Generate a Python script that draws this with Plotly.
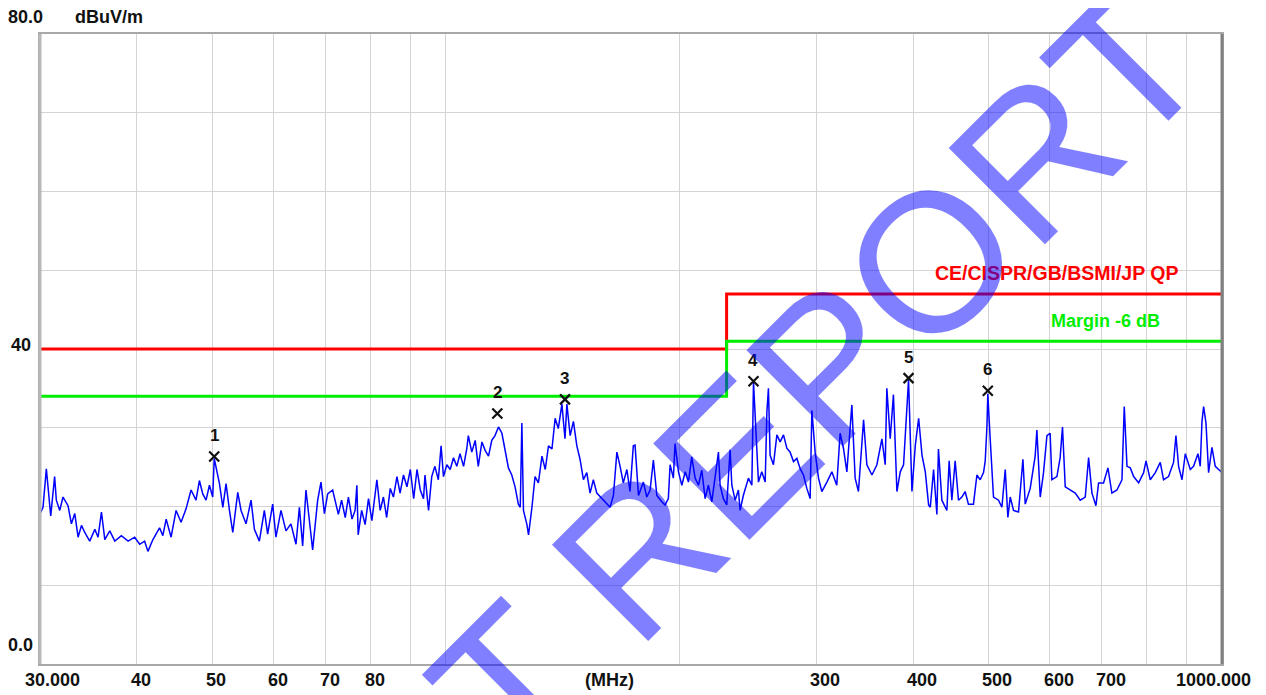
import math
import plotly.graph_objects as go

# ---------------- data ----------------
freq_mhz = [
    30.0, 30.27, 30.57, 30.72, 30.97, 31.33, 31.49, 31.81, 32.12, 32.60, 32.93, 33.26, 33.59, 33.93,
    34.26, 34.77, 35.30, 35.64, 36.00, 36.36, 36.90, 37.45, 38.19, 38.96, 39.73, 40.32, 40.92, 41.32,
    41.94, 42.77, 43.19, 43.62, 44.26, 44.92, 45.59, 46.27, 46.96, 47.66, 48.14, 48.62, 49.10, 49.59,
    50.08, 50.3, 51.09, 51.60, 52.10, 52.63, 53.15, 53.94, 54.47, 55.28, 56.11, 56.67, 57.51, 58.37,
    58.94, 59.83, 60.41, 61.32, 62.23, 63.16, 64.11, 64.76, 65.39, 66.04, 66.71, 67.36, 68.37, 69.05,
    69.75, 70.43, 71.48, 72.55,
    72.7, 73.4, 74.2, 74.9, 75.7, 76.4, 76.8, 77.1, 77.9, 78.7, 79.5, 80.3, 81.1, 81.5, 82.3, 83.1,
    83.9, 84.8, 85.6, 86.5, 87.3, 88.2, 89.1, 90.0, 90.9, 91.8, 92.7, 93.6, 94.0, 95.0, 95.9, 96.8,
    97.8, 98.6, 99.3, 100.3, 101.3, 102.3, 103.3, 104.3, 105.4, 106.4, 106.9, 108.0, 109.1, 110.1,
    111.3, 112.4, 113.5, 114.6, 115.7, 116.9, 118.1, 119.2, 120.4, 121.6, 122.8, 124.0, 124.7, 125.3,
    125.9, 127.2, 127.8, 129.1, 130.3, 131.6, 133.0, 134.3, 135.6, 137.0, 138.3, 139.6, 141.1, 142.4,
    143.2, 144.6, 146.0, 147.5, 148.9, 150.4, 151.9, 153.4, 154.9, 156.5, 158.8, 161.2, 162.8, 164.4,
    166.1, 167.7, 169.3, 171.1, 172.7, 174.4,
    175.3, 177.1, 179.7, 181.5, 183.3, 185.1, 187.0, 189.8, 191.6, 193.5, 194.5, 196.4, 197.4, 199.4,
    201.4, 203.4, 205.4, 207.4, 209.5, 211.6, 213.7, 215.8, 217.9, 220.1, 222.3, 224.5, 225.6, 227.8,
    230.1, 232.4, 233.6, 235.9, 238.2, 239.4, 241.7, 245.4, 247.9, 249.1, 252.8, 255.3, 257.9, 259.2,
    260.4, 261.7, 264.3, 267.0, 269.6, 272.3, 275.0, 277.7, 280.5, 283.3, 286.1, 288.9, 291.8, 294.7,
    296.2, 299.1, 302.1, 305.1, 309.7, 314.3, 318.9, 322.1, 325.3, 328.6, 333.5, 336.8, 340.1, 345.3,
    348.7, 354.0, 359.2, 364.6, 368.2, 370.0, 373.7, 377.3, 381.2, 385.0, 388.8, 394.6, 398.6, 402.6,
    406.6, 410.7, 414.7, 418.8,
    420.9, 425.0, 429.2, 431.2, 435.6, 442.1, 445.1, 448.7, 453.1, 457.6, 462.2, 466.7, 471.3, 478.4,
    483.3, 488.0, 492.9, 495.4, 497.9, 499.2, 502.6, 507.7, 515.3, 520.5, 525.7, 529.8, 533.5, 538.8,
    546.8, 554.0, 557.8, 566.1, 574.5, 577.4, 583.2, 588.9, 594.9, 600.6, 603.7, 612.8, 618.7, 623.0,
    628.1, 637.4, 647.0, 656.6, 666.5, 673.2, 679.9, 688.0, 693.4, 703.7, 712.9, 721.3, 732.2, 743.2,
    748.3, 754.4, 761.8, 769.4, 780.9, 792.5, 798.2, 808.3, 820.5, 832.6, 840.8, 853.4, 866.1, 872.3,
    879.2, 888.1, 896.8, 910.2, 919.1, 931.2, 937.5, 942.3, 946.9, 953.6, 961.0, 970.6, 980.2, 994.9,
    1000.0,
]
level_dbuv = [
    19.1, 19.9, 24.8, 22.5, 18.8, 23.8, 20.8, 19.5, 21.2, 20.1, 17.8, 19.1, 16.1, 17.6,
    16.7, 15.6, 17.1, 16.1, 19.3, 15.8, 16.9, 15.6, 16.3, 15.6, 16.1, 15.2, 15.6, 14.3,
    15.8, 17.3, 16.3, 18.4, 16.1, 19.5, 18.0, 19.7, 22.1, 20.8, 23.3, 21.6, 20.8, 22.7,
    21.2, 26.1, 22.9, 19.9, 22.9, 19.5, 16.7, 21.8, 19.5, 17.8, 20.8, 17.1, 15.6, 19.5,
    16.5, 20.3, 16.1, 19.5, 16.9, 17.8, 15.2, 19.9, 15.0, 22.1, 18.2, 14.5, 20.8, 23.1,
    19.1, 21.6, 22.1, 19.1,
    19.0, 20.8, 18.6, 21.2, 18.4, 19.5, 22.7, 16.4, 19.5, 17.7, 21.0, 18.2, 21.7, 23.4, 19.5, 21.2,
    18.6, 22.3, 21.2, 23.8, 21.7, 24.0, 22.5, 24.7, 21.0, 24.7, 22.1, 21.0, 24.0, 19.5, 23.8, 25.1,
    23.4, 27.7, 23.8, 25.3, 24.7, 26.2, 25.1, 26.7, 25.1, 27.3, 29.0, 26.9, 28.4, 25.1,
    28.2, 27.1, 26.4, 28.4, 29.0, 30.1, 29.3, 27.3, 24.9, 24.0, 22.5, 20.3, 19.9, 30.6,
    19.5, 17.7, 16.4, 19.9, 23.8, 23.0, 26.4, 24.7, 27.7, 27.3, 31.2, 29.9, 33.0, 28.6,
    33.0, 29.0, 30.8, 27.7, 26.0, 23.4, 24.3, 21.7, 23.4, 21.7, 21.0, 20.3, 19.9, 21.4,
    26.9, 25.1, 23.0, 24.7, 21.9, 27.7,
    27.8, 21.4, 23.1, 21.2, 22.1, 25.9, 21.4, 20.6, 20.2, 21.0, 25.3, 23.6, 28.0, 24.4,
    22.7, 24.4, 23.1, 26.3, 23.6, 22.7, 24.6, 21.0, 22.7, 20.6, 24.0, 26.9, 22.7, 21.0,
    20.2, 27.2, 22.7, 20.8, 22.1, 19.5, 21.4, 23.6, 22.7, 35.8, 23.1, 24.4, 23.1, 32.0,
    35.0, 26.5, 25.3, 29.1, 28.2, 29.1, 27.4, 26.9, 25.7, 26.1, 24.8, 24.0, 22.3, 21.0,
    32.2, 26.9, 23.6, 21.9, 23.1, 24.4, 22.7, 29.3, 27.4, 24.4, 32.9, 23.6, 21.9, 31.0,
    25.3, 24.0, 25.3, 28.6, 25.3, 35.0, 28.6, 34.2, 21.9, 24.4, 25.3, 36.1, 21.9, 27.8,
    31.2, 26.5, 24.4, 20.2,
    19.9, 24.7, 19.0, 27.3, 20.8, 19.5, 25.8, 20.8, 25.8, 20.8, 21.2, 21.9, 20.3, 20.3,
    24.0, 23.4, 24.3, 25.8, 30.1, 34.3, 28.8, 21.2, 20.8, 19.9, 24.7, 18.6, 21.2, 19.5,
    19.3, 26.0, 20.3, 22.3, 26.4, 29.7, 21.2, 24.3, 29.0, 29.3, 23.4, 23.8, 26.2, 30.1,
    22.5, 22.1, 21.7, 20.8, 21.2, 26.2, 21.7, 20.1, 23.0, 23.0, 24.9, 21.7, 22.1, 23.4,
    32.7, 25.1, 24.9, 23.8, 23.0, 24.3, 25.8, 23.4, 24.3, 25.6, 23.4, 23.8, 25.6, 29.0,
    25.1, 23.4, 26.7, 24.7, 25.1, 26.7, 25.1, 30.8, 32.7, 30.6, 24.3, 27.5, 25.1, 24.5,
    24.3,
]

# limit lines (stepped at 230 MHz)
limit_freq = [30, 230, 1000]
limit_qp = [40, 47, 47]
margin_db = [34, 41, 41]

# marked peaks
peak_no = ["1", "2", "3", "4", "5", "6"]
peak_freq = [50.3, 116.5, 142.4, 249.1, 394.6, 499.2]
peak_level = [26.35, 31.8, 33.6, 35.9, 36.3, 34.7]

# axis ticks / labels
grid_freqs = [40, 50, 60, 70, 80, 90, 100, 200, 300, 400, 500, 600, 700, 800, 900]
xlabel_vals = [30, 40, 50, 60, 70, 80, 300, 400, 500, 600, 700, 1000]
xlabel_text = ["30.000", "40", "50", "60", "70", "80", "300", "400", "500", "600", "700", "1000.000"]
ylabel_vals = [80, 40, 0]
ylabel_text = ["80.0", "40", "0.0"]

FONT = "Liberation Sans, Arial, sans-serif"
BOLD = dict(family=FONT, size=18, color="#111111", weight="bold")

fig = go.Figure()

fig.add_trace(go.Scatter(
    x=freq_mhz, y=level_dbuv, mode="lines",
    line=dict(color="#0000ff", width=1.5), hoverinfo="skip", showlegend=False,
))
fig.add_trace(go.Scatter(
    x=limit_freq, y=limit_qp, mode="lines", line_shape="hv",
    line=dict(color="#ff0000", width=3), showlegend=False,
))
fig.add_trace(go.Scatter(
    x=limit_freq, y=margin_db, mode="lines", line_shape="hv",
    line=dict(color="#00ee00", width=3), showlegend=False,
))
fig.add_trace(go.Scatter(
    x=peak_freq, y=peak_level, mode="markers",
    marker=dict(symbol="x-thin", size=10, line=dict(color="#111111", width=2.2)),
    showlegend=False,
))

annotations = []
for f, lv, t in zip(peak_freq, peak_level, peak_no):
    annotations.append(dict(
        x=math.log10(f), xref="x", y=lv, yref="y", text=t, showarrow=False,
        xanchor="center", yanchor="middle", yshift=21,
        font=dict(family=FONT, size=17, color="#111111", weight="bold"),
    ))
for v, t in zip(xlabel_vals, xlabel_text):
    if t == xlabel_text[0]:
        anchor, shift = "left", -17
    elif t == xlabel_text[-1]:
        anchor, shift = "right", 31
    else:
        anchor, shift = "center", (4 if v < 100 else 9)
    annotations.append(dict(
        x=math.log10(v), xref="x", y=0, yref="paper", text=t, showarrow=False,
        xanchor=anchor, yanchor="middle", xshift=shift, yshift=-16, font=BOLD,
    ))
annotations.append(dict(
    x=0.482, xref="paper", y=0, yref="paper", text="(MHz)", showarrow=False,
    xanchor="center", yanchor="middle", yshift=-16, font=BOLD,
))
y_shift = {80: 17, 40: 4, 0: 19}
x_shift = {80: 5, 40: -7, 0: -5}
for v, t in zip(ylabel_vals, ylabel_text):
    annotations.append(dict(
        x=0, xref="paper", y=v, yref="y", text=t, showarrow=False,
        xanchor="right", yanchor="middle", xshift=x_shift[v], yshift=y_shift[v], font=BOLD,
    ))
annotations.append(dict(
    x=0, xref="paper", y=80, yref="y", text="dBuV/m", showarrow=False,
    xanchor="left", yanchor="middle", xshift=33, yshift=17, font=BOLD,
))
annotations.append(dict(
    x=1, xref="paper", y=limit_qp[-1], yref="y", text="CE/CISPR/GB/BSMI/JP QP", showarrow=False,
    xanchor="right", yanchor="middle", xshift=-42, yshift=21,
    font=dict(family=FONT, size=19.5, color="#ff0000", weight="bold"),
))
annotations.append(dict(
    x=1, xref="paper", y=margin_db[-1], yref="y", text="Margin -6 dB", showarrow=False,
    xanchor="right", yanchor="middle", xshift=-60, yshift=20,
    font=dict(family=FONT, size=18, color="#00ee00", weight="bold"),
))
# watermark
annotations.append(dict(
    x=0.543, xref="paper", y=0.244, yref="paper", text="TEST REPORT", showarrow=False,
    xanchor="center", yanchor="middle", textangle=-45,
    font=dict(family=FONT, size=198, color="rgba(0,0,255,0.5)"),
))

# the page body adds an 8 px offset, so the figure is 8 px smaller than the window
fig.update_layout(
    width=1258, height=687,
    margin=dict(l=32, r=44, t=26, b=31, pad=0),
    paper_bgcolor="white", plot_bgcolor="white",
    annotations=annotations,
    xaxis=dict(
        type="log", range=[math.log10(30), math.log10(1000)],
        tickvals=grid_freqs, showticklabels=False, ticks="",
        showgrid=True, gridcolor="#d4d4d4", gridwidth=1,
        showline=True, linecolor="#a8a8a8", linewidth=2, mirror=True, zeroline=False,
    ),
    yaxis=dict(
        range=[0, 80], dtick=10, showticklabels=False, ticks="",
        showgrid=True, gridcolor="#d4d4d4", gridwidth=1,
        showline=True, linecolor="#a8a8a8", linewidth=2, mirror=True, zeroline=False,
    ),
    shapes=[
        dict(type="line", xref="paper", yref="paper", x0=1, x1=1, y0=0, y1=1,
             line=dict(color="#808080", width=3)),
        dict(type="line", xref="paper", yref="paper", x0=0, x1=0, y0=0, y1=1,
             line=dict(color="#b8b8b8", width=3)),
    ],
)

fig.write_html("out.html")
